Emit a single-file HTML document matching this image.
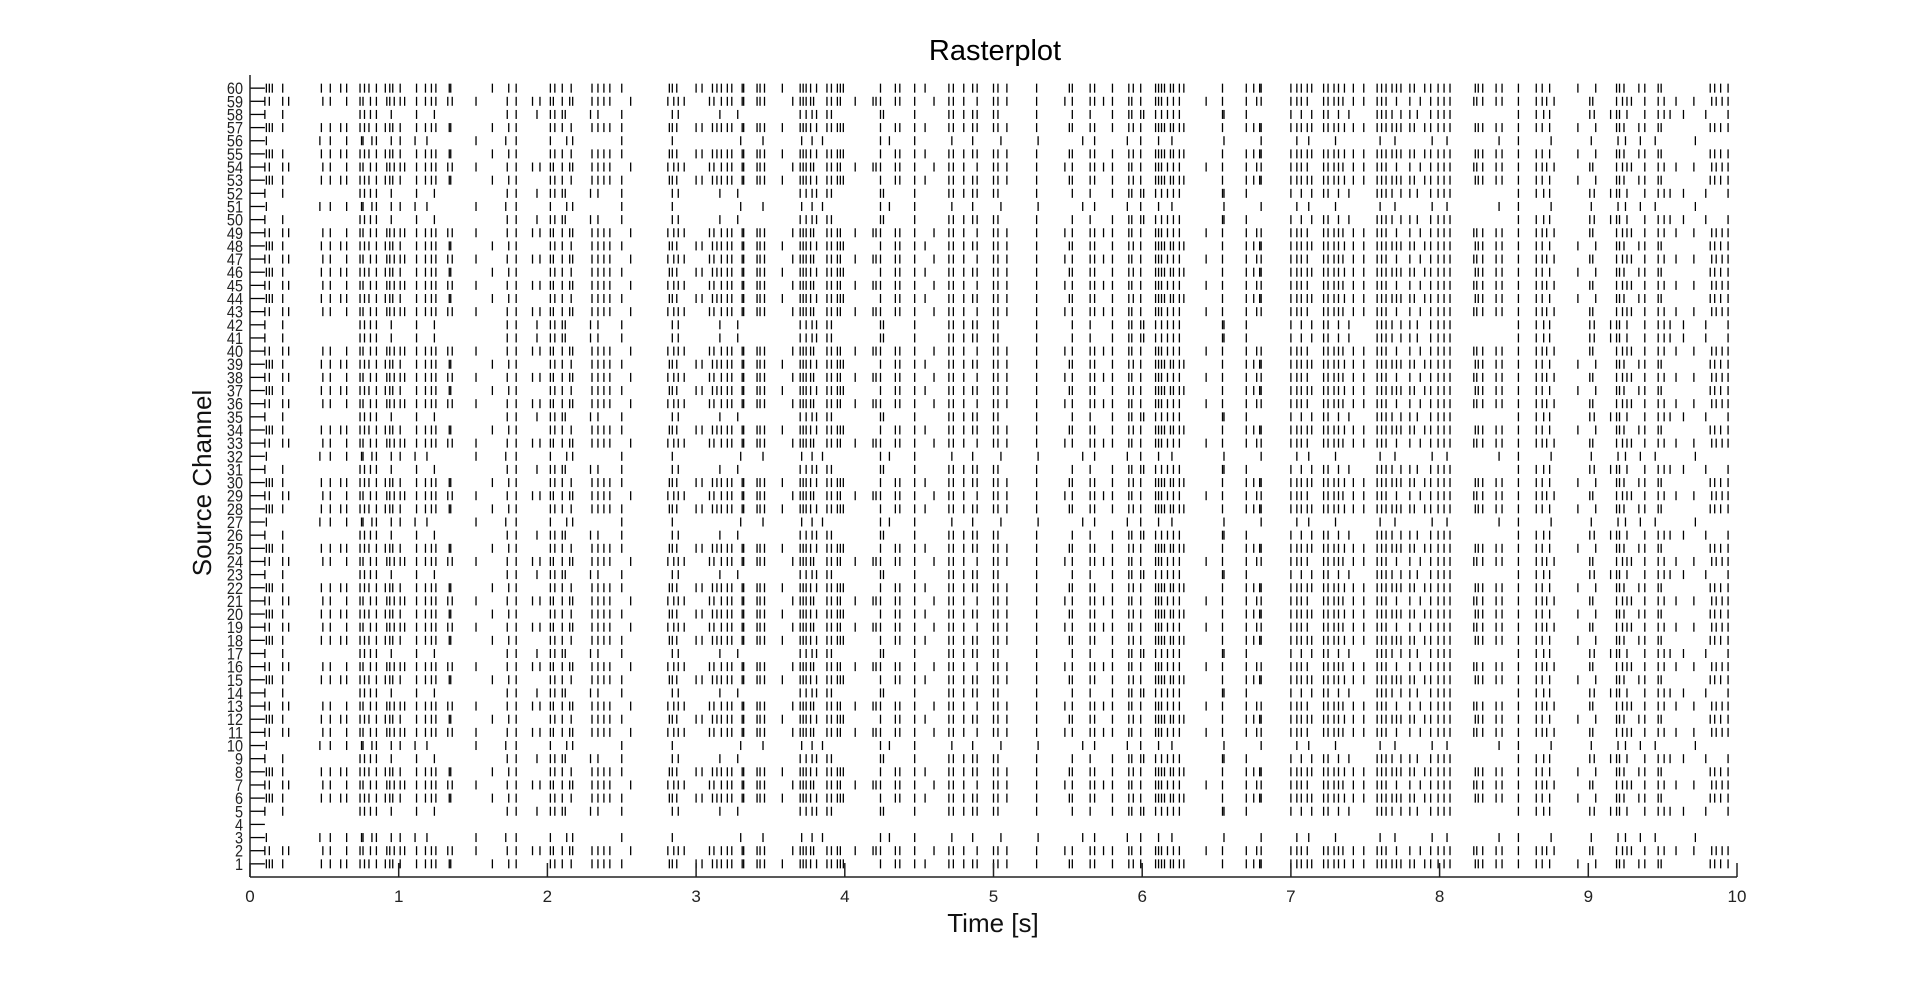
<!DOCTYPE html>
<html><head><meta charset="utf-8"><style>
html,body{margin:0;padding:0;background:#fff;}
svg{display:block;font-family:"Liberation Sans",Arial,sans-serif;}
</style></head><body>
<svg id="chart" width="1920" height="986" viewBox="0 0 1920 986" xmlns="http://www.w3.org/2000/svg">
<rect width="1920" height="986" fill="#fff"/>
<text x="995" y="60" font-size="29" text-anchor="middle" fill="#000">Rasterplot</text>
<text x="993" y="932" font-size="26" text-anchor="middle" fill="#111">Time [s]</text>
<text transform="translate(211,483) rotate(-90)" font-size="26" text-anchor="middle" fill="#111">Source Channel</text>
<g id="marks"></g>
<g id="axes"></g>
</svg>
<script>
const xTicks = [0,1,2,3,4,5,6,7,8,9,10];
const xTickLabels = ["0","1","2","3","4","5","6","7","8","9","10"];
const channels = [];
for (let c = 1; c <= 60; c++) channels.push(c);
const spikeTemplateA = [0.11,0.13,0.15,0.22,0.48,0.54,0.61,0.65,0.74,0.77,0.80,0.85,0.91,0.94,0.96,1.01,1.12,1.18,1.22,1.25,1.34,1.35,1.63,1.74,1.79,2.02,2.05,2.10,2.16,2.30,2.34,2.38,2.42,2.50,2.82,2.84,2.87,3.00,3.04,3.11,3.14,3.17,3.21,3.24,3.31,3.32,3.41,3.43,3.46,3.58,3.70,3.72,3.74,3.77,3.81,3.88,3.91,3.95,3.97,3.99,4.24,4.34,4.37,4.47,4.54,4.70,4.73,4.80,4.86,4.89,5.00,5.03,5.09,5.29,5.51,5.53,5.65,5.68,5.80,5.91,5.94,5.99,6.09,6.11,6.13,6.15,6.19,6.21,6.25,6.28,6.54,6.70,6.75,6.79,6.80,7.00,7.04,7.07,7.11,7.14,7.22,7.25,7.29,7.32,7.36,7.42,7.49,7.58,7.61,7.64,7.68,7.71,7.74,7.80,7.83,7.90,7.94,7.99,8.03,8.07,8.24,8.26,8.29,8.38,8.42,8.53,8.65,8.69,8.74,8.93,9.05,9.19,9.21,9.24,9.34,9.38,9.47,9.49,9.82,9.85,9.89,9.94];
const spikeTemplateB = [0.10,0.13,0.22,0.26,0.49,0.54,0.65,0.74,0.76,0.81,0.85,0.92,0.94,0.97,1.01,1.04,1.12,1.18,1.22,1.25,1.33,1.36,1.52,1.73,1.79,1.90,1.95,2.02,2.04,2.10,2.15,2.17,2.30,2.34,2.38,2.42,2.56,2.81,2.85,2.88,2.92,3.09,3.12,3.17,3.21,3.24,3.31,3.32,3.41,3.43,3.46,3.65,3.70,3.72,3.74,3.77,3.79,3.88,3.91,3.95,3.97,4.07,4.19,4.21,4.24,4.34,4.37,4.47,4.60,4.70,4.73,4.80,4.89,5.00,5.03,5.09,5.29,5.48,5.53,5.65,5.68,5.74,5.80,5.91,5.93,5.99,6.09,6.11,6.13,6.17,6.21,6.25,6.43,6.54,6.70,6.77,6.80,7.00,7.04,7.07,7.11,7.22,7.25,7.29,7.32,7.35,7.42,7.49,7.58,7.61,7.64,7.71,7.80,7.87,7.94,7.99,8.03,8.07,8.23,8.25,8.29,8.38,8.42,8.53,8.65,8.69,8.72,8.77,9.01,9.03,9.19,9.23,9.26,9.29,9.38,9.47,9.51,9.59,9.71,9.83,9.86,9.90,9.94];
const spikeTemplateC = [0.10,0.22,0.74,0.77,0.81,0.85,0.95,1.12,1.24,1.73,1.79,1.93,2.02,2.05,2.10,2.12,2.29,2.34,2.50,2.84,2.88,3.16,3.28,3.70,3.74,3.78,3.81,3.88,3.91,4.24,4.26,4.47,4.70,4.73,4.80,4.86,4.89,5.00,5.03,5.29,5.53,5.65,5.80,5.91,5.93,5.99,6.01,6.09,6.13,6.17,6.21,6.25,6.54,6.55,6.70,7.00,7.07,7.14,7.22,7.25,7.32,7.39,7.58,7.61,7.64,7.68,7.74,7.80,7.85,7.94,7.99,8.03,8.07,8.53,8.65,8.70,8.74,9.01,9.04,9.15,9.19,9.21,9.26,9.38,9.47,9.51,9.55,9.64,9.79,9.94];
const spikeTemplateD = [0.11,0.47,0.54,0.65,0.75,0.76,0.82,0.85,0.95,1.01,1.11,1.19,1.52,1.72,1.79,2.02,2.13,2.17,2.50,2.84,3.30,3.45,3.71,3.78,3.85,4.24,4.30,4.47,4.72,4.86,5.05,5.30,5.60,5.68,5.90,5.99,6.11,6.20,6.55,6.80,7.04,7.12,7.30,7.60,7.70,7.95,8.05,8.40,8.53,8.75,9.02,9.20,9.25,9.35,9.45,9.72];
const spikeTemplateE = [];
const spikeTemplates = [spikeTemplateA, spikeTemplateB, spikeTemplateC, spikeTemplateD, spikeTemplateE];
// template index per channel 1..60
const channelTemplate = [0,1,3,4,2,0,1,0,2,3,1,0,1,2,0,1,2,0,1,0,1,0,2,1,0,2,3,0,1,0,2,3,1,0,2,1,0,1,0,1,2,2,1,0,1,0,1,0,1,2,3,2,0,1,0,3,0,2,1,0];

const X0 = 250, X1 = 1737, YB = 877, YT = 75;
const xScale = t => X0 + (t - 0) / (10 - 0) * (X1 - X0);
const yScale = ch => YB - (ch - 0) / (61 - 0) * (YB - YT);
const NS = "http://www.w3.org/2000/svg";
const marks = document.getElementById('marks');
const axes = document.getElementById('axes');

channels.forEach((ch, i) => {
  const y = yScale(ch);
  const g = document.createElementNS(NS, 'g');
  
  
  const hl = document.createElementNS(NS, 'line');
  
  
  hl.setAttribute('x1', xScale(0)); hl.setAttribute('x2', xScale(0.1));
  hl.setAttribute('y1', y); hl.setAttribute('y2', y);
  hl.setAttribute('stroke', '#000'); hl.setAttribute('stroke-width', '1.3');
  g.appendChild(hl);
  const spikes = spikeTemplates[channelTemplate[i]];
  spikes.forEach(t => {
    const l = document.createElementNS(NS, 'line');
    
    
    const x = xScale(t);
    l.setAttribute('x1', x); l.setAttribute('x2', x);
    l.setAttribute('y1', y - 4.5); l.setAttribute('y2', y + 4.5);
    l.setAttribute('stroke', '#000'); l.setAttribute('stroke-width', '1.3');
    g.appendChild(l);
  });
  marks.appendChild(g);
  const lab = document.createElementNS(NS, 'text');
  
  
  lab.setAttribute('x', 0); lab.setAttribute('y', 0);
  lab.setAttribute('transform', 'translate(243,' + (y + 6) + ') scale(0.85,1)');
  lab.setAttribute('text-anchor', 'end');
  lab.setAttribute('font-size', '17');
  lab.setAttribute('fill', '#222');
  lab.textContent = String(ch);
  axes.appendChild(lab);
});

function line(name, x1, y1, x2, y2) {
  const l = document.createElementNS(NS, 'line');
  
  
  l.setAttribute('x1', x1); l.setAttribute('y1', y1);
  l.setAttribute('x2', x2); l.setAttribute('y2', y2);
  l.setAttribute('stroke', '#222'); l.setAttribute('stroke-width', '1.5');
  axes.appendChild(l);
}
line('y-axis-line', X0, YT, X0, YB);
line('x-axis-line', X0, YB, X1, YB);
xTicks.forEach((t, i) => {
  const x = xScale(t);
  line('x-tick', x, YB, x, YB - 14);
  const tx = document.createElementNS(NS, 'text');
  
  
  tx.setAttribute('x', x); tx.setAttribute('y', 902);
  tx.setAttribute('text-anchor', 'middle');
  tx.setAttribute('font-size', '17');
  tx.setAttribute('fill', '#222');
  tx.textContent = xTickLabels[i];
  axes.appendChild(tx);
});
</script>
</body></html>
